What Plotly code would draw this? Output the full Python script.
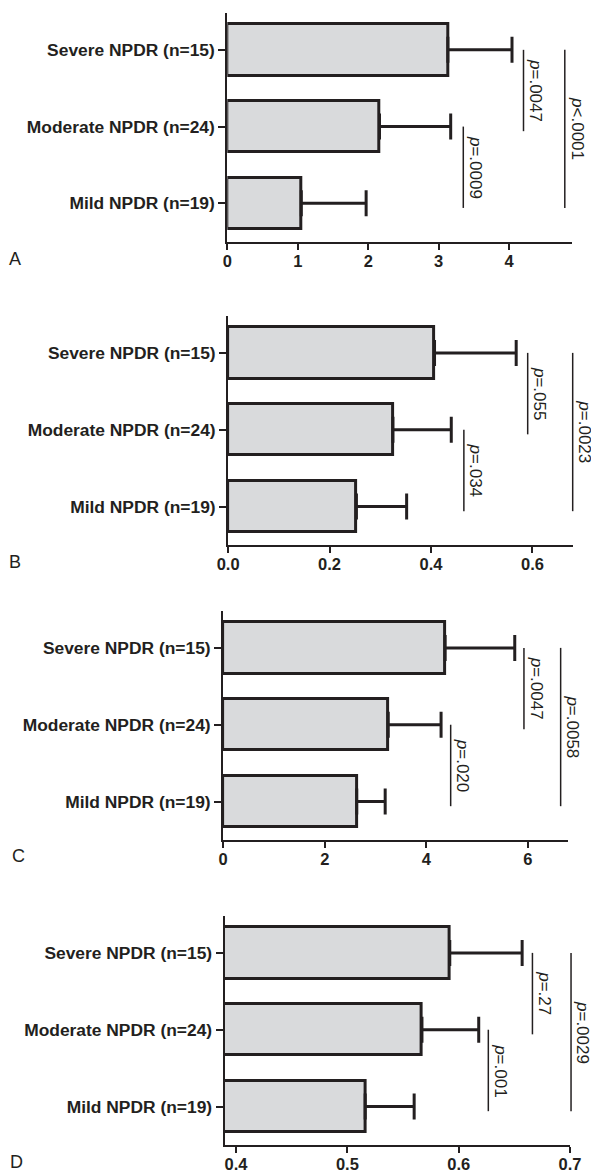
import plotly.graph_objects as go

# ---------------- data ----------------
categories = ["Mild NPDR (n=19)", "Moderate NPDR (n=24)", "Severe NPDR (n=15)"]

means_A = [1.05, 2.16, 3.13]
sd_A = [0.92, 1.01, 0.91]
p_A = ["=.0009", "=.0047", "<.0001"]   # mild-moderate, moderate-severe, mild-severe

means_B = [0.253, 0.325, 0.407]
sd_B = [0.099, 0.115, 0.161]
p_B = ["=.034", "=.055", "=.0023"]

means_C = [2.63, 3.25, 4.37]
sd_C = [0.56, 1.04, 1.37]
p_C = ["=.020", "=.0047", "=.0058"]

means_D = [0.516, 0.567, 0.592]
sd_D = [0.044, 0.051, 0.065]
p_D = ["=.001", "=.27", "=.0029"]

panel_letters = ["A", "B", "C", "D"]
xranges = [[0, 4.89], [0, 0.68], [0, 6.79], [0.3897, 0.70]]
xticks = [[0, 1, 2, 3, 4], [0.0, 0.2, 0.4, 0.6], [0, 2, 4, 6], [0.4, 0.5, 0.6, 0.7]]
xtickfmt = ["d", ".1f", "d", ".1f"]

# ---------------- layout / style ----------------
OFF = 8                      # default <body> margin of the written page
W, H = 599 - OFF, 1174 - OFF
# pixel boxes in the page: (x_left, x_right, y_top, y_bottom)
boxes = [(227.3, 571.9, 13, 241.7),
         (228.1, 573.0, 316, 545),
         (223.1, 568.1, 611, 840),
         (224.6, 570.0, 916, 1145)]
# bracket gaps in px: (lower short gap, upper short gap, long bracket beyond upper one)
gaps = [(12.6, 11.5, 41.3), (12.6, 11.5, 45.0), (9.6, 9.2, 36.7), (9.6, 10.3, 38.6)]
letter_pos = [(15, 259), (15, 562), (18, 856), (16, 1162)]
YR = [-0.5, 2.48]
INK = "#231f20"
FILL = "#d9dadc"

panels = [(means_A, sd_A, p_A), (means_B, sd_B, p_B),
          (means_C, sd_C, p_C), (means_D, sd_D, p_D)]

fig = go.Figure()
shapes = []
annotations = []

label_font = dict(family="Liberation Sans, Arial", size=17.4, color=INK, weight="bold")
tick_font = dict(family="Liberation Sans, Arial", size=16.5, color=INK, weight="bold")
p_font = dict(family="Liberation Sans, Arial", size=17, color=INK)

for i, ((means, sds, plabels), box, rng) in enumerate(zip(panels, boxes, xranges)):
    n = i + 1
    xl, xr, yt, yb = [v - OFF for v in box]
    xdom = [xl / W, xr / W]
    ydom = [1 - yb / H, 1 - yt / H]
    sfx = "" if n == 1 else str(n)

    fig.add_trace(go.Bar(
        x=means, y=categories, orientation="h", width=0.67,
        marker=dict(color=FILL, line=dict(color=INK, width=3)),
        error_x=dict(type="data", symmetric=False, array=sds, arrayminus=[0] * len(sds),
                     color=INK, thickness=3, width=13),
        xaxis="x" + sfx, yaxis="y" + sfx, showlegend=False, hoverinfo="skip"))

    fig.update_layout(**{
        "xaxis" + sfx: dict(domain=xdom, range=rng, anchor="y" + sfx, tickvals=xticks[i],
                            tickformat=xtickfmt[i], showline=True, linewidth=2, linecolor=INK,
                            ticks="outside", ticklen=6, tickwidth=2, tickcolor=INK,
                            ticklabelstandoff=-3,
                            showgrid=False, zeroline=False, tickfont=tick_font,
                            automargin=False, fixedrange=True),
        "yaxis" + sfx: dict(domain=ydom, range=YR, anchor="x" + sfx, type="category",
                            categoryorder="array", categoryarray=categories,
                            showline=True, linewidth=2, linecolor=INK,
                            ticks="outside", ticklen=7, tickwidth=2, tickcolor=INK,
                            showgrid=False, zeroline=False, tickfont=label_font,
                            automargin=False, fixedrange=True),
    })

    # brackets derived from data: error-bar ends + pixel gaps
    px_per_unit = (xr - xl) / (rng[1] - rng[0])
    ends = [m + s for m, s in zip(means, sds)]
    g_low, g_up, g_long = gaps[i]
    x_low = ends[1] + g_low / px_per_unit            # mild vs moderate
    x_up = ends[2] + g_up / px_per_unit              # moderate vs severe
    x_long = x_up + g_long / px_per_unit             # mild vs severe
    brackets = [(x_low, 1, 0, plabels[0]), (x_up, 2, 1, plabels[1]), (x_long, 2, 0, plabels[2])]

    def fx(v):
        return (v - rng[0]) / (rng[1] - rng[0])

    def fy(c):
        return (c - YR[0]) / (YR[1] - YR[0])

    for xv, top, bot, lab in brackets:
        y0 = fy(top)
        y1 = fy(bot - 0.06)
        shapes.append(dict(type="line", xref="x" + sfx + " domain", yref="y" + sfx + " domain",
                           x0=fx(xv), x1=fx(xv), y0=y0, y1=y1,
                           line=dict(color=INK, width=1.5)))
        annotations.append(dict(xref="x" + sfx + " domain", yref="y" + sfx + " domain",
                                x=fx(xv), y=(y0 + y1) / 2, xshift=12, showarrow=False,
                                textangle=90, text="<i>p</i>" + lab, font=p_font,
                                xanchor="center", yanchor="middle"))

    lx, ly = letter_pos[i]
    annotations.append(dict(xref="paper", yref="paper", x=(lx - OFF) / W, y=1 - (ly - OFF) / H,
                            text=panel_letters[i], showarrow=False, xanchor="center",
                            yanchor="middle",
                            font=dict(family="Liberation Sans, Arial", size=18, color=INK)))

fig.update_layout(template="none", width=W, height=H, margin=dict(l=0, r=0, t=0, b=0, pad=0),
                  paper_bgcolor="white", plot_bgcolor="white",
                  shapes=shapes, annotations=annotations, bargap=0)

fig.write_html("out.html")
